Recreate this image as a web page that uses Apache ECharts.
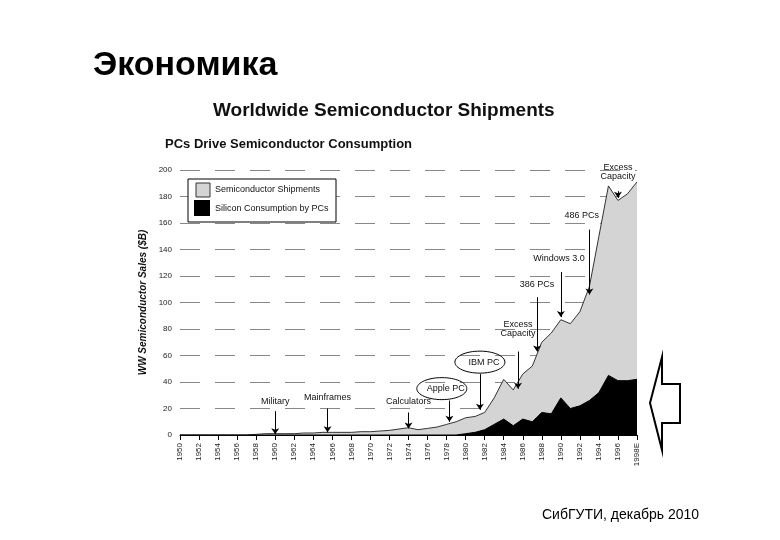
<!DOCTYPE html><html><head><meta charset="utf-8">
<script src="https://cdn.jsdelivr.net/npm/echarts@6/dist/echarts.min.js"></script>
<style>body{margin:0;background:#fff}#c{width:780px;height:540px}</style></head><body><div id="c"></div>
<script>
const years=[];for(let y=1950;y<=1998;y++)years.push(y);
const shipments=[0,0,0,0,0,0,0,0,0.5,1,1,1,1,1.5,1.5,2,2,2,2,2.5,2.5,3,3.5,4.5,5.5,4,5,6,8,10,13,14,17,28,42,34,46,52,70,77,87,84,93,112,150,188,177,182,191];
const pcs=[0,0,0,0,0,0,0,0,0,0,0,0,0,0,0,0,0,0,0,0,0,0,0,0,0,0,0,0,0,0,1,2,4,8,12,7,12,10,17,16,28,20,22,26,32,45,41,41,42];
const yTicks=[0,20,40,60,80,100,120,140,160,180,200];
// annotations: [label, textX, textY, arrowX, arrowFromY, arrowToY]
const notes=[["Military",1960,22,1960,18,0.5],["Mainframes",1965.5,25,1965.5,20,2],["Calculators",1974,22,1974,17,5],
["Excess\nCapacity",1985.5,73,1985.5,63,35],["386 PCs",1987.5,110,1987.5,104,63],["Windows 3.0",1989.8,130,1990,123,89],
["486 PCs",1992.2,162,1993,155,106],["Excess\nCapacity",1996,192,1996,184,179]];
const ellipses=[["Apple PC",1977.5,35,1978.3,33,10],["IBM PC",1981.5,55,1981.5,53,19]];
const F='Liberation Sans';
const c=echarts.init(document.getElementById('c'));
const ml=notes.map(n=>[{coord:[n[3],n[4]]},{coord:[n[3],n[5]]}]).concat(ellipses.map(e=>[{coord:[e[3],e[4]-7]},{coord:[e[3],e[5]]}]));
c.setOption({animation:false,textStyle:{fontFamily:F},
title:[{text:'Экономика',left:88,top:44,textStyle:{fontFamily:F,fontSize:34,fontWeight:'bold',color:'#000'}},
{text:'Worldwide Semiconductor Shipments',left:208,top:96,textStyle:{fontFamily:F,fontSize:19,fontWeight:'bold',color:'#111'}},
{text:'PCs Drive Semiconductor Consumption',left:160,top:133,textStyle:{fontFamily:F,fontSize:13,fontWeight:'bold',color:'#111'}},
{text:'СибГУТИ, декабрь 2010',left:537,top:503,textStyle:{fontFamily:F,fontSize:14,fontWeight:'normal',color:'#000'}}],
grid:{left:180,right:143,top:170,bottom:105},
xAxis:{type:'value',min:1950,max:1998,interval:2,axisLine:{lineStyle:{color:'#000'}},axisTick:{lineStyle:{color:'#000'}},splitLine:{show:false},
 axisLabel:{rotate:90,fontSize:8,color:'#222',formatter:v=>v===1998?'1998E':String(v)}},
yAxis:{type:'value',min:0,max:200,interval:20,name:'WW Semiconductor Sales ($B)',nameLocation:'middle',nameGap:22,nameRotate:90,
 nameTextStyle:{fontSize:10,fontWeight:'bold',fontStyle:'italic',color:'#111'},axisLine:{show:false},axisTick:{show:false},
 axisLabel:{fontSize:8,color:'#222',formatter:v=>yTicks.includes(v)?String(v):''},splitLine:{lineStyle:{type:[20,15],color:'#888',width:1}}},
series:[{type:'line',data:years.map((y,i)=>[y,shipments[i]]),symbol:'none',lineStyle:{color:'#333',width:1},areaStyle:{color:'#d4d4d4',opacity:1},
 markLine:{silent:true,symbol:['none','arrow'],symbolSize:6,label:{show:false},lineStyle:{color:'#000',type:'solid',width:1},data:ml}},
{type:'line',data:years.map((y,i)=>[y,pcs[i]]),symbol:'none',lineStyle:{color:'#000',width:1},areaStyle:{color:'#000',opacity:1}}]});
const g=[];
notes.forEach(n=>{const p=c.convertToPixel({gridIndex:0},[n[1],n[2]]);g.push({type:'text',z:100,x:p[0],y:p[1],style:{text:n[0],fill:'#111',fontSize:9,align:'center',verticalAlign:'bottom',fontFamily:F}});});
ellipses.forEach(e=>{const p=c.convertToPixel({gridIndex:0},[e[1],e[2]]);g.push({type:'ellipse',shape:{cx:p[0],cy:p[1],rx:25,ry:11},style:{fill:'none',stroke:'#000',lineWidth:1}});
 g.push({type:'text',x:p[0]+4,y:p[1],style:{text:e[0],fill:'#111',fontSize:9,align:'center',verticalAlign:'middle',fontFamily:F}});});
g.push({type:'rect',shape:{x:188,y:179,width:148,height:43},style:{fill:'#fff',stroke:'#000',lineWidth:1}});
g.push({type:'rect',shape:{x:196,y:183,width:14,height:14},style:{fill:'#d4d4d4',stroke:'#333'}});
g.push({type:'rect',shape:{x:194,y:200,width:16,height:16},style:{fill:'#000'}});
g.push({type:'text',x:215,y:190,style:{text:'Semiconductor Shipments',fontSize:9,fill:'#111',verticalAlign:'middle',fontFamily:F}});
g.push({type:'text',x:215,y:209,style:{text:'Silicon Consumption by PCs',fontSize:9,fill:'#111',verticalAlign:'middle',fontFamily:F}});
g.push({type:'polygon',shape:{points:[[650,403],[662,357],[662,384],[680,384],[680,423],[662,423],[662,450]]},style:{fill:'#fff',stroke:'#000',lineWidth:2}});
c.setOption({graphic:g});
</script></body></html>
